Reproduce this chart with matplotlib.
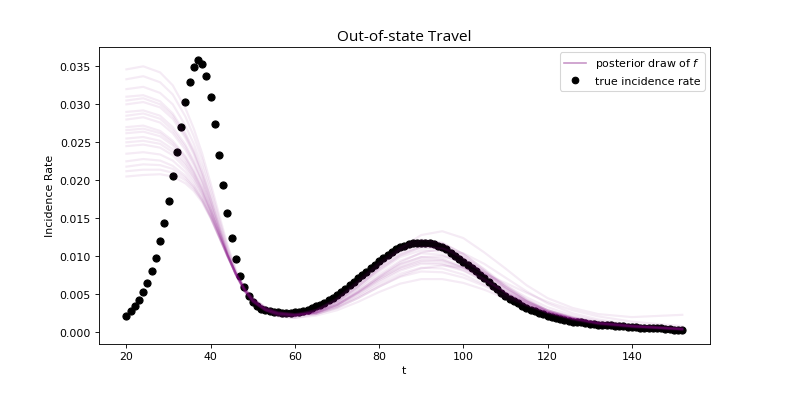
import numpy as np
import matplotlib
matplotlib.use("Agg")
import matplotlib.pyplot as plt
from matplotlib.lines import Line2D

# true incidence rate, one value per day from t=20 to t=152
t_obs = np.arange(20, 153)
rate_obs = [
    0.00220, 0.00276, 0.00342, 0.00430, 0.00536, 0.00645, 0.00804, 0.00980, 0.01208, 0.01436,
    0.01730, 0.02054, 0.02368, 0.02703, 0.03032, 0.03299, 0.03496, 0.03579, 0.03536, 0.03378,
    0.03101, 0.02737, 0.02334, 0.01943, 0.01566, 0.01246, 0.00966, 0.00746, 0.00592, 0.00483,
    0.00395, 0.0034, 0.0031, 0.0029, 0.0028, 0.0027, 0.00265, 0.0026, 0.0026, 0.0026,
    0.00265, 0.0027, 0.0028, 0.0030, 0.0032, 0.0034, 0.0036, 0.0039, 0.0042, 0.0045,
    0.0049, 0.0053, 0.0057, 0.0062, 0.0066, 0.0071, 0.0075, 0.0080, 0.0085, 0.0089,
    0.0094, 0.0098, 0.0102, 0.0106, 0.0109, 0.0112, 0.0114, 0.0116, 0.0117, 0.0118,
    0.0118, 0.0118, 0.0117, 0.0116, 0.0114, 0.0112, 0.0109, 0.0105, 0.0101, 0.0097,
    0.0093, 0.0089, 0.0085, 0.0081, 0.0076, 0.0071, 0.0066, 0.0061, 0.0057, 0.0052,
    0.0048, 0.0044, 0.0041, 0.0038, 0.0035, 0.0032, 0.0030, 0.0028, 0.0026, 0.0024,
    0.0022, 0.0020, 0.0019, 0.0017, 0.0016, 0.0015, 0.0014, 0.0013, 0.0013, 0.0012,
    0.0011, 0.0011, 0.0010, 0.0010, 0.0009, 0.0009, 0.0008, 0.0008, 0.0008, 0.0007,
    0.0007, 0.0007, 0.0006, 0.0006, 0.0006, 0.0005, 0.0005, 0.0005, 0.0004, 0.0004,
    0.0003, 0.0003, 0.0003,
]

# posterior draws of f, read at these t values
t_draw = [20, 24, 28, 31, 34, 36, 38, 40, 42, 44, 46, 48, 50, 53, 56, 60,
          65, 70, 75, 80, 85, 90, 95, 100, 105, 110, 115, 120, 126, 132, 140, 152]

post_draws = [
    [.0346, .0350, .0342, .0325, .0295, .0268, .0235, .0196, .0155, .0115, .0082, .0058, .0042, .0029, .0023, .0021,
     .0027, .0040, .0060, .0085, .0110, .0128, .0133, .0124, .0105, .0084, .0062, .0045, .0032, .0024, .0020, .0023],
    [.0333, .0337, .0329, .0313, .0284, .0258, .0227, .0189, .0150, .0112, .0080, .0057, .0041, .0029, .0023, .0021,
     .0027, .0039, .0058, .0080, .0099, .0108, .0106, .0094, .0076, .0057, .0041, .0029, .0019, .0013, .0009, .0005],
    [.0320, .0323, .0315, .0300, .0272, .0248, .0218, .0182, .0145, .0109, .0079, .0056, .0041, .0029, .0023, .0021,
     .0030, .0045, .0068, .0092, .0112, .0122, .0118, .0103, .0082, .0060, .0042, .0029, .0019, .0013, .0008, .0005],
    [.0310, .0312, .0304, .0288, .0262, .0240, .0211, .0177, .0141, .0106, .0077, .0055, .0040, .0029, .0024, .0022,
     .0026, .0036, .0052, .0070, .0085, .0094, .0094, .0085, .0070, .0054, .0040, .0029, .0020, .0014, .0009, .0005],
    [.0305, .0308, .0300, .0285, .0259, .0237, .0208, .0175, .0140, .0105, .0077, .0055, .0040, .0029, .0024, .0022,
     .0026, .0036, .0053, .0072, .0089, .0099, .0100, .0093, .0079, .0062, .0046, .0033, .0022, .0015, .0009, .0005],
    [.0300, .0303, .0296, .0281, .0256, .0234, .0206, .0173, .0138, .0104, .0076, .0055, .0041, .0030, .0025, .0023,
     .0028, .0041, .0061, .0083, .0102, .0112, .0110, .0097, .0078, .0058, .0041, .0028, .0018, .0012, .0008, .0004],
    [.0290, .0292, .0285, .0270, .0247, .0226, .0200, .0169, .0136, .0103, .0076, .0055, .0040, .0028, .0021, .0019,
     .0024, .0033, .0047, .0063, .0077, .0085, .0084, .0076, .0063, .0049, .0036, .0026, .0018, .0012, .0008, .0004],
    [.0285, .0288, .0281, .0266, .0244, .0223, .0198, .0168, .0135, .0103, .0076, .0055, .0041, .0029, .0023, .0021,
     .0028, .0040, .0060, .0082, .0101, .0112, .0111, .0099, .0080, .0060, .0043, .0029, .0019, .0012, .0008, .0004],
    [.0280, .0283, .0276, .0262, .0240, .0220, .0196, .0166, .0134, .0102, .0075, .0055, .0041, .0030, .0025, .0023,
     .0029, .0043, .0065, .0088, .0107, .0117, .0114, .0100, .0080, .0059, .0041, .0027, .0017, .0011, .0007, .0003],
    [.0270, .0272, .0265, .0252, .0232, .0213, .0190, .0162, .0132, .0102, .0076, .0054, .0039, .0029, .0024, .0022,
     .0027, .0038, .0056, .0076, .0094, .0104, .0102, .0090, .0073, .0054, .0038, .0026, .0017, .0011, .0007, .0004],
    [.0266, .0268, .0262, .0249, .0230, .0211, .0189, .0161, .0132, .0102, .0077, .0056, .0041, .0030, .0025, .0023,
     .0026, .0036, .0052, .0070, .0086, .0096, .0095, .0085, .0070, .0053, .0039, .0027, .0018, .0012, .0008, .0004],
    [.0262, .0264, .0258, .0246, .0227, .0209, .0187, .0160, .0131, .0102, .0077, .0057, .0042, .0031, .0025, .0023,
     .0025, .0034, .0049, .0066, .0081, .0090, .0089, .0081, .0067, .0052, .0038, .0027, .0018, .0012, .0008, .0004],
    [.0255, .0257, .0252, .0241, .0223, .0206, .0185, .0159, .0130, .0101, .0076, .0056, .0042, .0031, .0026, .0024,
     .0026, .0036, .0053, .0073, .0092, .0105, .0110, .0104, .0090, .0072, .0054, .0038, .0025, .0017, .0010, .0005],
    [.0250, .0252, .0248, .0237, .0220, .0204, .0183, .0158, .0129, .0101, .0076, .0057, .0043, .0032, .0026, .0024,
     .0029, .0044, .0066, .0090, .0109, .0120, .0117, .0103, .0083, .0062, .0043, .0029, .0019, .0012, .0008, .0004],
    [.0245, .0247, .0243, .0233, .0216, .0201, .0181, .0156, .0128, .0100, .0076, .0057, .0043, .0032, .0026, .0024,
     .0024, .0032, .0045, .0060, .0073, .0080, .0079, .0072, .0061, .0048, .0036, .0026, .0018, .0012, .0008, .0004],
    [.0235, .0237, .0234, .0226, .0211, .0197, .0178, .0154, .0127, .0100, .0076, .0057, .0043, .0031, .0025, .0022,
     .0026, .0037, .0054, .0073, .0090, .0099, .0097, .0086, .0070, .0052, .0037, .0025, .0016, .0010, .0006, .0003],
    [.0225, .0228, .0226, .0219, .0206, .0193, .0175, .0152, .0126, .0100, .0077, .0058, .0044, .0030, .0021, .0019,
     .0022, .0029, .0040, .0053, .0064, .0070, .0070, .0065, .0056, .0045, .0035, .0026, .0018, .0013, .0009, .0005],
    [.0218, .0221, .0220, .0215, .0203, .0191, .0174, .0152, .0126, .0101, .0078, .0059, .0045, .0032, .0024, .0022,
     .0025, .0035, .0051, .0068, .0083, .0092, .0091, .0082, .0068, .0052, .0038, .0027, .0018, .0012, .0008, .0004],
    [.0212, .0214, .0214, .0210, .0200, .0189, .0173, .0151, .0126, .0101, .0078, .0059, .0045, .0033, .0027, .0024,
     .0029, .0042, .0063, .0085, .0104, .0114, .0111, .0097, .0077, .0057, .0040, .0027, .0017, .0011, .0007, .0004],
    [.0205, .0207, .0208, .0205, .0196, .0186, .0171, .0150, .0125, .0100, .0077, .0058, .0044, .0033, .0026, .0023,
     .0024, .0032, .0045, .0060, .0074, .0084, .0088, .0085, .0077, .0065, .0052, .0040, .0029, .0021, .0014, .0008],
]

draw_color = "purple"

fig, ax = plt.subplots(figsize=(10, 5), dpi=78.9)
fig.subplots_adjust(left=0.125, right=0.9, top=0.88, bottom=0.128)

for d in post_draws:
    ax.plot(t_draw, d, color=draw_color, alpha=0.08, linewidth=2)

ax.scatter(t_obs, rate_obs, color="black", s=42, zorder=1)

handles = [
    Line2D([], [], color="#c896c8", linewidth=1.5, label="posterior draw of $f$"),
    Line2D([], [], color="black", marker="o", linestyle="", markersize=6, label="true incidence rate"),
]
ax.legend(handles=handles, loc="upper right")

ax.set_title("Out-of-state Travel", family="Open Sans", fontsize=14)
ax.set_xlabel("t")
ax.set_ylabel("Incidence Rate")

fig.savefig("out.png", dpi=78.9)
